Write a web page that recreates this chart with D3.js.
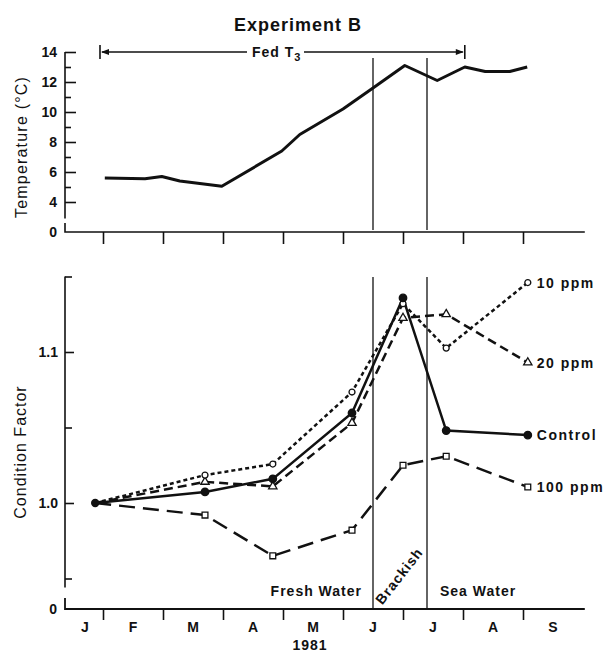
<!DOCTYPE html>
<meta charset="utf-8">
<style>
body { margin: 0; background: #fff; }
text { font-family: "Liberation Sans", Arial, sans-serif; fill: #111; }
.lbl { font-weight: bold; font-size: 14px; letter-spacing: 1px; }
.tick text { font-family: "Liberation Sans", Arial, sans-serif; font-weight: bold; font-size: 14px; fill: #111; }
.tick line { stroke: #111; stroke-width: 1.6px; }
</style>
<body>
<script src="https://d3js.org/d3.v7.min.js"></script>
<script>

// month letters along the bottom axis, and where each one sits (months since Jan 1)
var monthNames = ["J", "F", "M", "A", "M", "J", "J", "A", "S"];
var monthLabelAt = [0.7, 1.5, 2.5, 3.5, 4.5, 5.5, 6.5, 7.5, 8.5];
var monthTicks = [1, 2, 3, 4, 5, 6, 7, 8];

// temperature (top panel)
var tempMonths = [1.03, 1.7, 1.98, 2.28, 2.98, 3.98, 4.28, 5.0, 5.5, 6.03, 6.57, 7.03, 7.37, 7.78, 8.07];
var tempValues = [5.6, 5.55, 5.7, 5.4, 5.05, 7.4, 8.5, 10.2, 11.6, 13.1, 12.1, 13.0, 12.7, 12.7, 13.0];

// feeding period and water regimes
var fedPeriod = [0.95, 7.03];
var regionBreaks = [5.5, 6.4];

// condition factor (bottom panel)
var sampleMonths = [0.87, 2.7, 3.83, 5.15, 6.0, 6.72, 8.08];
var control  = [1.0, 1.0073, 1.016, 1.0596, 1.1358, 1.048, 1.045];
var ppm10    = [1.0, 1.0185, 1.0258, 1.0735, 1.132, 1.1026, 1.146];
var ppm20    = [1.0, 1.014, 1.011, 1.053, 1.1225, 1.125, 1.093];
var ppm100   = [1.0, 0.992, 0.965, 0.982, 1.025, 1.031, 1.0106];

var svg = d3.select("body").append("svg")
    .attr("width", 606)
    .attr("height", 652);

var x = d3.scaleLinear().domain([1, 8]).range([103, 523]);
var yT = d3.scaleLinear().domain([4, 14]).range([202, 52]);
var yC = d3.scaleLinear().domain([1.0, 1.1]).range([503, 352]);

var axisX = 65, topBase = 232, botBase = 609;

// title
svg.append("text")
    .attr("x", 298).attr("y", 31)
    .attr("text-anchor", "middle")
    .style("font-weight", "bold").style("font-size", "18px").style("letter-spacing", "1px")
    .text("Experiment B");

// ---------- top panel ----------
var topG = svg.append("g");

// y axis (major + minor ticks, inward)
topG.append("g")
    .attr("transform", "translate(" + axisX + ",0)")
    .call(d3.axisLeft(yT).tickValues([4, 6, 8, 10, 12, 14]).tickSizeInner(-11).tickSizeOuter(0).tickPadding(8))
    .call(function(g) { g.select(".domain").remove(); });
topG.append("g")
    .attr("transform", "translate(" + axisX + ",0)")
    .call(d3.axisLeft(yT).tickValues([5, 7, 9, 11, 13]).tickSizeInner(-6).tickSizeOuter(0).tickFormat(""))
    .call(function(g) { g.select(".domain").remove(); });

topG.append("line").attr("x1", axisX).attr("x2", axisX)
    .attr("y1", yT(14)).attr("y2", yT(2.9))
    .attr("stroke", "#111").attr("stroke-width", 1.6);
topG.append("path")
    .attr("d", "M" + axisX + "," + (topBase - 9) + "V" + topBase + "H" + x(9.03))
    .attr("fill", "none").attr("stroke", "#111").attr("stroke-width", 1.6);
topG.append("text")
    .attr("x", axisX - 8).attr("y", topBase + 5)
    .attr("text-anchor", "end")
    .style("font-weight", "bold").style("font-size", "14px")
    .text("0");

topG.append("g")
    .attr("transform", "translate(0," + topBase + ")")
    .call(d3.axisBottom(x).tickValues(monthTicks).tickSize(12).tickFormat(""))
    .call(function(g) { g.select(".domain").remove(); });

// regime boundaries
regionBreaks.forEach(function(m) {
  topG.append("line")
      .attr("x1", x(m)).attr("x2", x(m))
      .attr("y1", 58).attr("y2", 230)
      .attr("stroke", "#111").attr("stroke-width", 1.3);
});

// Fed T3 arrow
var fy = yT(14);
topG.append("line").attr("x1", x(fedPeriod[0])).attr("x2", x(fedPeriod[0]))
    .attr("y1", fy - 7).attr("y2", fy + 7).attr("stroke", "#111").attr("stroke-width", 1.6);
topG.append("line").attr("x1", x(fedPeriod[1])).attr("x2", x(fedPeriod[1]))
    .attr("y1", fy - 7).attr("y2", fy + 7).attr("stroke", "#111").attr("stroke-width", 1.6);
topG.append("line").attr("x1", x(fedPeriod[0]) + 2).attr("x2", 247)
    .attr("y1", fy).attr("y2", fy).attr("stroke", "#111").attr("stroke-width", 1.3);
topG.append("line").attr("x1", 304).attr("x2", x(fedPeriod[1]) - 2)
    .attr("y1", fy).attr("y2", fy).attr("stroke", "#111").attr("stroke-width", 1.3);
topG.append("path")
    .attr("d", "M" + (x(fedPeriod[0]) + 1) + "," + fy + "l8,-3v6z").attr("fill", "#111");
topG.append("path")
    .attr("d", "M" + (x(fedPeriod[1]) - 1) + "," + fy + "l-8,-3v6z").attr("fill", "#111");
var fed = topG.append("text")
    .attr("x", 252).attr("y", fy + 5)
    .style("font-weight", "bold").style("font-size", "14px").style("letter-spacing", "1px");
fed.append("tspan").text("Fed T");
fed.append("tspan").attr("dy", 4).style("font-size", "11px").text("3");

// temperature line
var tempLine = d3.line()
    .x(function(d, i) { return x(tempMonths[i]); })
    .y(function(d) { return yT(d); });
topG.append("path")
    .datum(tempValues)
    .attr("d", tempLine)
    .attr("fill", "none").attr("stroke", "#111")
    .attr("stroke-width", 3).attr("stroke-linejoin", "round");

topG.append("text")
    .attr("transform", "translate(27,147) rotate(-90)")
    .attr("text-anchor", "middle")
    .style("font-size", "16px").style("letter-spacing", "1.2px")
    .text("Temperature (°C)");

// ---------- bottom panel ----------
var botG = svg.append("g");

botG.append("g")
    .attr("transform", "translate(" + axisX + ",0)")
    .call(d3.axisLeft(yC).tickValues([1.0, 1.1]).tickSizeInner(-9).tickSizeOuter(0).tickPadding(7)
      .tickFormat(d3.format(".1f")))
    .call(function(g) { g.select(".domain").remove(); });
botG.append("g")
    .attr("transform", "translate(" + axisX + ",0)")
    .call(d3.axisLeft(yC).tickValues([0.95, 1.05, 1.15]).tickSizeInner(-7).tickSizeOuter(0).tickFormat(""))
    .call(function(g) { g.select(".domain").remove(); });

botG.append("line").attr("x1", axisX).attr("x2", axisX)
    .attr("y1", yC(1.15)).attr("y2", yC(0.944))
    .attr("stroke", "#111").attr("stroke-width", 1.6);
botG.append("path")
    .attr("d", "M" + axisX + "," + (botBase - 11) + "V" + botBase + "H" + x(9.03))
    .attr("fill", "none").attr("stroke", "#111").attr("stroke-width", 1.8);
botG.append("text")
    .attr("x", axisX - 8).attr("y", botBase + 5)
    .attr("text-anchor", "end")
    .style("font-weight", "bold").style("font-size", "14px")
    .text("0");

botG.append("g")
    .attr("transform", "translate(0," + botBase + ")")
    .call(d3.axisBottom(x).tickValues(monthTicks).tickSize(11).tickFormat(""))
    .call(function(g) { g.select(".domain").remove(); });

botG.selectAll(".month")
    .data(monthNames)
    .enter().append("text")
    .attr("class", "month")
    .attr("x", function(d, i) { return x(monthLabelAt[i]); })
    .attr("y", 632)
    .attr("text-anchor", "middle")
    .style("font-weight", "bold").style("font-size", "14px")
    .text(function(d) { return d; });

botG.append("text")
    .attr("x", x(4.45)).attr("y", 650)
    .attr("text-anchor", "middle")
    .style("font-weight", "bold").style("font-size", "14px").style("letter-spacing", "1px")
    .text("1981");

regionBreaks.forEach(function(m) {
  botG.append("line")
      .attr("x1", x(m)).attr("x2", x(m))
      .attr("y1", 277).attr("y2", botBase - 1)
      .attr("stroke", "#111").attr("stroke-width", 1.3);
});

botG.append("text").attr("class", "lbl")
    .attr("x", x(regionBreaks[0]) - 11).attr("y", 596)
    .attr("text-anchor", "end")
    .text("Fresh Water");
botG.append("text").attr("class", "lbl")
    .attr("x", x(regionBreaks[1]) + 13).attr("y", 596)
    .text("Sea Water");
botG.append("text").attr("class", "lbl")
    .attr("transform", "translate(" + (x((regionBreaks[0] + regionBreaks[1]) / 2) + 3) + ",579) rotate(-52)")
    .attr("text-anchor", "middle")
    .text("Brackish");

botG.append("text")
    .attr("transform", "translate(26,452) rotate(-90)")
    .attr("text-anchor", "middle")
    .style("font-size", "16px").style("letter-spacing", "1px")
    .text("Condition Factor");

var series = [
  { name: "100 ppm", values: ppm100, dash: "16,8", mark: "square" },
  { name: "20 ppm", values: ppm20, dash: "9,5", mark: "triangle" },
  { name: "10 ppm", values: ppm10, dash: "4,3", mark: "circle" },
  { name: "Control", values: control, dash: null, mark: "dot" }
];

var cLine = d3.line()
    .x(function(d, i) { return x(sampleMonths[i]); })
    .y(function(d) { return yC(d); });

series.forEach(function(s) {
  botG.append("path")
      .datum(s.values)
      .attr("d", cLine)
      .attr("fill", "none").attr("stroke", "#111")
      .attr("stroke-width", 2.5)
      .attr("stroke-dasharray", s.dash);
});

var symType = { square: d3.symbolSquare, triangle: d3.symbolTriangle, circle: d3.symbolCircle, dot: d3.symbolCircle };
var symSize = { square: 34, triangle: 30, circle: 28, dot: 44 };

series.forEach(function(s) {
  botG.selectAll(null)
      .data(s.values.slice(1))
      .enter().append("path")
      .attr("transform", function(d, i) { return "translate(" + x(sampleMonths[i + 1]) + "," + yC(d) + ")"; })
      .attr("d", d3.symbol().type(symType[s.mark]).size(symSize[s.mark]))
      .attr("fill", s.mark === "dot" ? "#111" : "#fff")
      .attr("stroke", "#111").attr("stroke-width", 1.3);
  // series label at the last sample
  botG.append("text").attr("class", "lbl")
      .attr("x", x(sampleMonths[sampleMonths.length - 1]) + 9)
      .attr("y", yC(s.values[s.values.length - 1]) + 5)
      .style("letter-spacing", "1.5px")
      .text(s.name);
});

// common starting point
botG.append("circle")
    .attr("cx", x(sampleMonths[0])).attr("cy", yC(control[0]))
    .attr("r", 4.2).attr("fill", "#111");

</script>
</body>
